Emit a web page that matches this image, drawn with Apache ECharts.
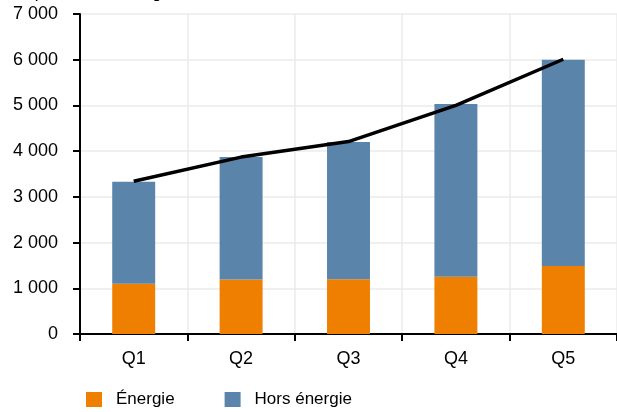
<!DOCTYPE html>
<html><head><meta charset="utf-8">
<script src="https://cdn.jsdelivr.net/npm/echarts@6/dist/echarts.min.js"></script>
<style>html,body{margin:0;padding:0;background:#fff}#c{width:617px;height:412px}</style>
</head><body><div id="c"></div>
<script>
const categories = ['Q1','Q2','Q3','Q4','Q5'];
const energie = [1100, 1190, 1200, 1250, 1490];
const horsEnergie = [2230, 2680, 3000, 3780, 4510];
const total = [3340, 3870, 4210, 5000, 6010];
const yTicks = [0,1000,2000,3000,4000,5000,6000,7000];
const fmt = v => String(v).replace(/\B(?=(\d{3})+(?!\d))/g, ' ');
const font = 'Liberation Sans';
const chart = echarts.init(document.getElementById('c'), null, {renderer:'canvas'});
chart.setOption({
  animation:false,
  textStyle:{fontFamily:font},
  title:{text:'Dépenses en énergie', left:8, top:-20, textStyle:{fontFamily:font, fontSize:17, fontWeight:'normal', color:'#000'}},
  grid:{left:80, right:0, top:14, bottom:78, containLabel:false},
  legend:{left:81, top:386, itemWidth:16, itemHeight:15, itemGap:50, icon:'rect',
    data:['Énergie','Hors énergie'],
    textStyle:{fontFamily:font, fontSize:17, color:'#000', padding:[0,0,0,9]}},
  xAxis:{type:'category', data:categories, boundaryGap:true,
    axisLine:{lineStyle:{color:'#000', width:2}},
    axisTick:{show:true, length:7, lineStyle:{color:'#000', width:2}},
    axisLabel:{fontFamily:font, fontSize:18, color:'#000', margin:16},
    splitLine:{show:true, lineStyle:{color:'#ebebeb', width:1.5}}},
  yAxis:{type:'value', min:yTicks[0], max:yTicks[yTicks.length-1], interval:1000,
    axisLine:{show:true, lineStyle:{color:'#000', width:2}},
    axisTick:{show:true, length:7, lineStyle:{color:'#000', width:2}},
    axisLabel:{fontFamily:font, fontSize:18, color:'#000', margin:22, formatter:fmt},
    splitLine:{show:true, lineStyle:{color:'#ebebeb', width:1.5}}},
  series:[
    {name:'Énergie', type:'bar', stack:'a', data:energie, barWidth:'40%', itemStyle:{color:'#ef7f00'}},
    {name:'Hors énergie', type:'bar', stack:'a', data:horsEnergie, barWidth:'40%', itemStyle:{color:'#5a84aa'}},
    {name:'Total', type:'line', data:total, symbol:'none', z:5, lineStyle:{color:'#000', width:3.5}}
  ]
});
</script></body></html>
